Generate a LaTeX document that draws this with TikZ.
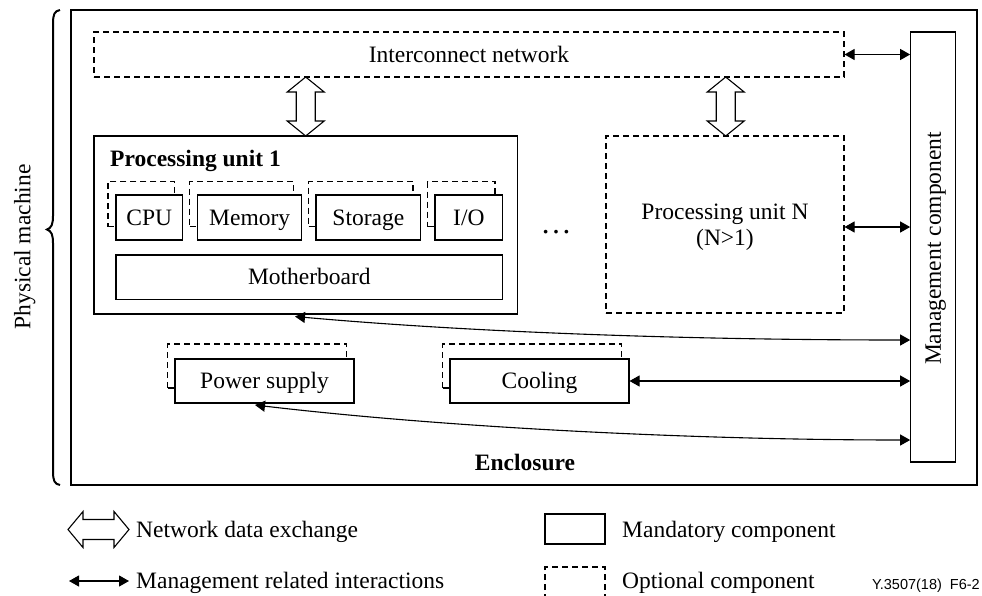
\documentclass[tikz,border=0pt]{standalone}
\usepackage{fontspec}
\setmainfont{Liberation Serif}
\newfontfamily\figsans{Liberation Sans}
\usetikzlibrary{arrows.meta,calc,fit}
\tikzset{
  base/.style={line width=1.1pt, draw=black},
  txt/.style={font=\fontsize{23.5}{28.5}\selectfont},
  mand/.style={base, fill=white, rectangle, inner sep=0pt, txt},
  opt/.style={base, dash pattern=on 6pt off 4pt, rectangle, inner sep=0pt, txt},
  mg/.style={line width=1.1pt, {Triangle[length=10pt,width=11pt]}-{Triangle[length=10pt,width=11pt]}},
  lbl/.style={txt, inner sep=0pt, text height=15.5pt, text depth=0pt},
  hollow/.style={line width=1.1pt, draw=black, fill=white, line join=miter},
}
% vertical hollow double arrow: x, ytop, ybottom
\newcommand\hollowV[3]{%
  \draw[hollow] (#1,#2) -- ++(18.5,15) -- ++(-9,0) |- ($(#1,#3)+(18.5,-15)$) -- (#1,#3) -- ($(#1,#3)+(-18.5,-15)$) -- ++(9,0) |- ($(#1,#2)+(-18.5,15)$) -- cycle;}
\begin{document}
\begin{tikzpicture}[x=1pt,y=-1pt]
\useasboundingbox (0,0) rectangle (982,595);

% brace and label
\draw[line width=2pt] (60,10) .. controls (54.5,11) and (53,14) .. (53,24) -- (53,216)
  .. controls (53,224) and (51.5,228) .. (47,229.5) .. controls (51.5,231) and (53,235) .. (53,243)
  -- (53,471) .. controls (53,481) and (54.5,484) .. (60,485);
\node[lbl, rotate=90] (pm) at (22.5,247) {Physical machine};

% enclosure
\node[mand, fit={(71,10) (977,485)}] (enc) {};
\node[lbl, font=\fontsize{23.5}{28.5}\selectfont\bfseries] (enclbl) at (525,463) {Enclosure};

% interconnect
\node[opt, fit={(94,32) (844,77)}] (ic) {};
\node[lbl] at (ic.center) {Interconnect network};

% management
\node[mand, fit={(910.7,32) (955.7,462)}] (mc) {};
\node[lbl, rotate=90] at (933.2,248.5) {Management component};

% processing unit 1
\node[mand, fit={(94,136) (517.7,314)}] (pu1) {};
\node[inner sep=0pt, font=\fontsize{23.5}{28.5}\selectfont\bfseries, anchor=base west] at (110,166) {Processing unit 1};

% optional outlines behind components
\node[opt, fit={(108,181.5) (174.7,226.5)}] (cpuo) {};
\node[opt, fit={(189.7,181.5) (293.7,226.5)}] (memo) {};
\node[opt, fit={(308.5,181.5) (413,226.5)}] (stoo) {};
\node[opt, fit={(427.5,181.5) (495,226.5)}] (ioo) {};
\node[mand, fit={(116,195) (182.7,240)}] (cpu) {};
\node[lbl] at (cpu.center) {CPU};
\node[mand, fit={(197.7,195) (301.7,240)}] (mem) {};
\node[lbl] at (mem.center) {Memory};
\node[mand, fit={(316,195) (420.7,240)}] (sto) {};
\node[lbl] at (sto.center) {Storage};
\node[mand, fit={(435,195) (502.7,240)}] (io) {};
\node[lbl] at (io.center) {I/O};
\node[mand, fit={(116,255) (502.7,299.3)}] (mb) {};
\node[lbl] at (mb.center) {Motherboard};

% dots
\node[inner sep=0pt, anchor=base, font=\fontsize{31}{34}\selectfont] (dots) at (556,233) {\dots};

% processing unit N
\node[opt, fit={(606,136) (844,313)}] (pun) {};
\node[inner sep=0pt, anchor=base, txt] (punl1) at (725,219) {Processing unit N};
\node[inner sep=0pt, anchor=base, txt] (punl2) at (725,245) {(N>1)};

% power supply and cooling
\node[opt, fit={(167.7,344) (346.7,388)}] (pso) {};
\node[opt, fit={(442.7,344) (621.7,388)}] (coolo) {};
\node[mand, fit={(175,359) (354,403)}] (ps) {};
\node[lbl] at (ps.center) {Power supply};
\node[mand, fit={(450,359) (629,403)}] (cool) {};
\node[lbl] at (cool.center) {Cooling};

% hollow network arrows
\hollowV{305.7}{77}{136}
\hollowV{725.7}{77}{136}

% management interactions
\draw[mg] (ic.east |- 0,54.5) -- (mc.west |- 0,54.5);
\draw[mg] (pun.east |- 0,227) -- (mc.west |- 0,227);
\draw[mg] (cool.east |- 0,381) -- (mc.west |- 0,381);
\coordinate (pu1e) at (295,316.5);
\coordinate (pse) at (255,405);
\draw[mg] (pu1e) .. controls (480,333) and (700,340) .. (mc.west |- 0,340);
\draw[mg] (pse) .. controls (450,428) and (700,440) .. (mc.west |- 0,440);

% legend
\draw[hollow] (68,529.5) -- ++(15,-18) -- ++(0,8) -| (114,511.5) -- (129,529.5) -- (114,547.5) |- (83,539.5) -- ++(0,8) -- cycle;
\node[lbl, anchor=west] at (136,530) {Network data exchange};
\coordinate (la1) at (69,581);
\coordinate (la2) at (129,581);
\draw[mg] (la1) -- (la2);
\node[lbl, anchor=west] at (136,581) {Management related interactions};
\node[mand, fit={(545,514) (605,544)}] (lm) {};
\node[lbl, anchor=west] at (622,530) {Mandatory component};
\draw[base, dash pattern=on 6pt off 4pt] (545,600) -- (545,567) -- (605,567) -- (605,600);
\node[lbl, anchor=west] at (622,581) {Optional component};
\node[inner sep=0pt, anchor=base east, font=\figsans\fontsize{14.5}{17}\selectfont] at (980,589) {Y.3507(18)\ \ F6-2};
\end{tikzpicture}
\end{document}
